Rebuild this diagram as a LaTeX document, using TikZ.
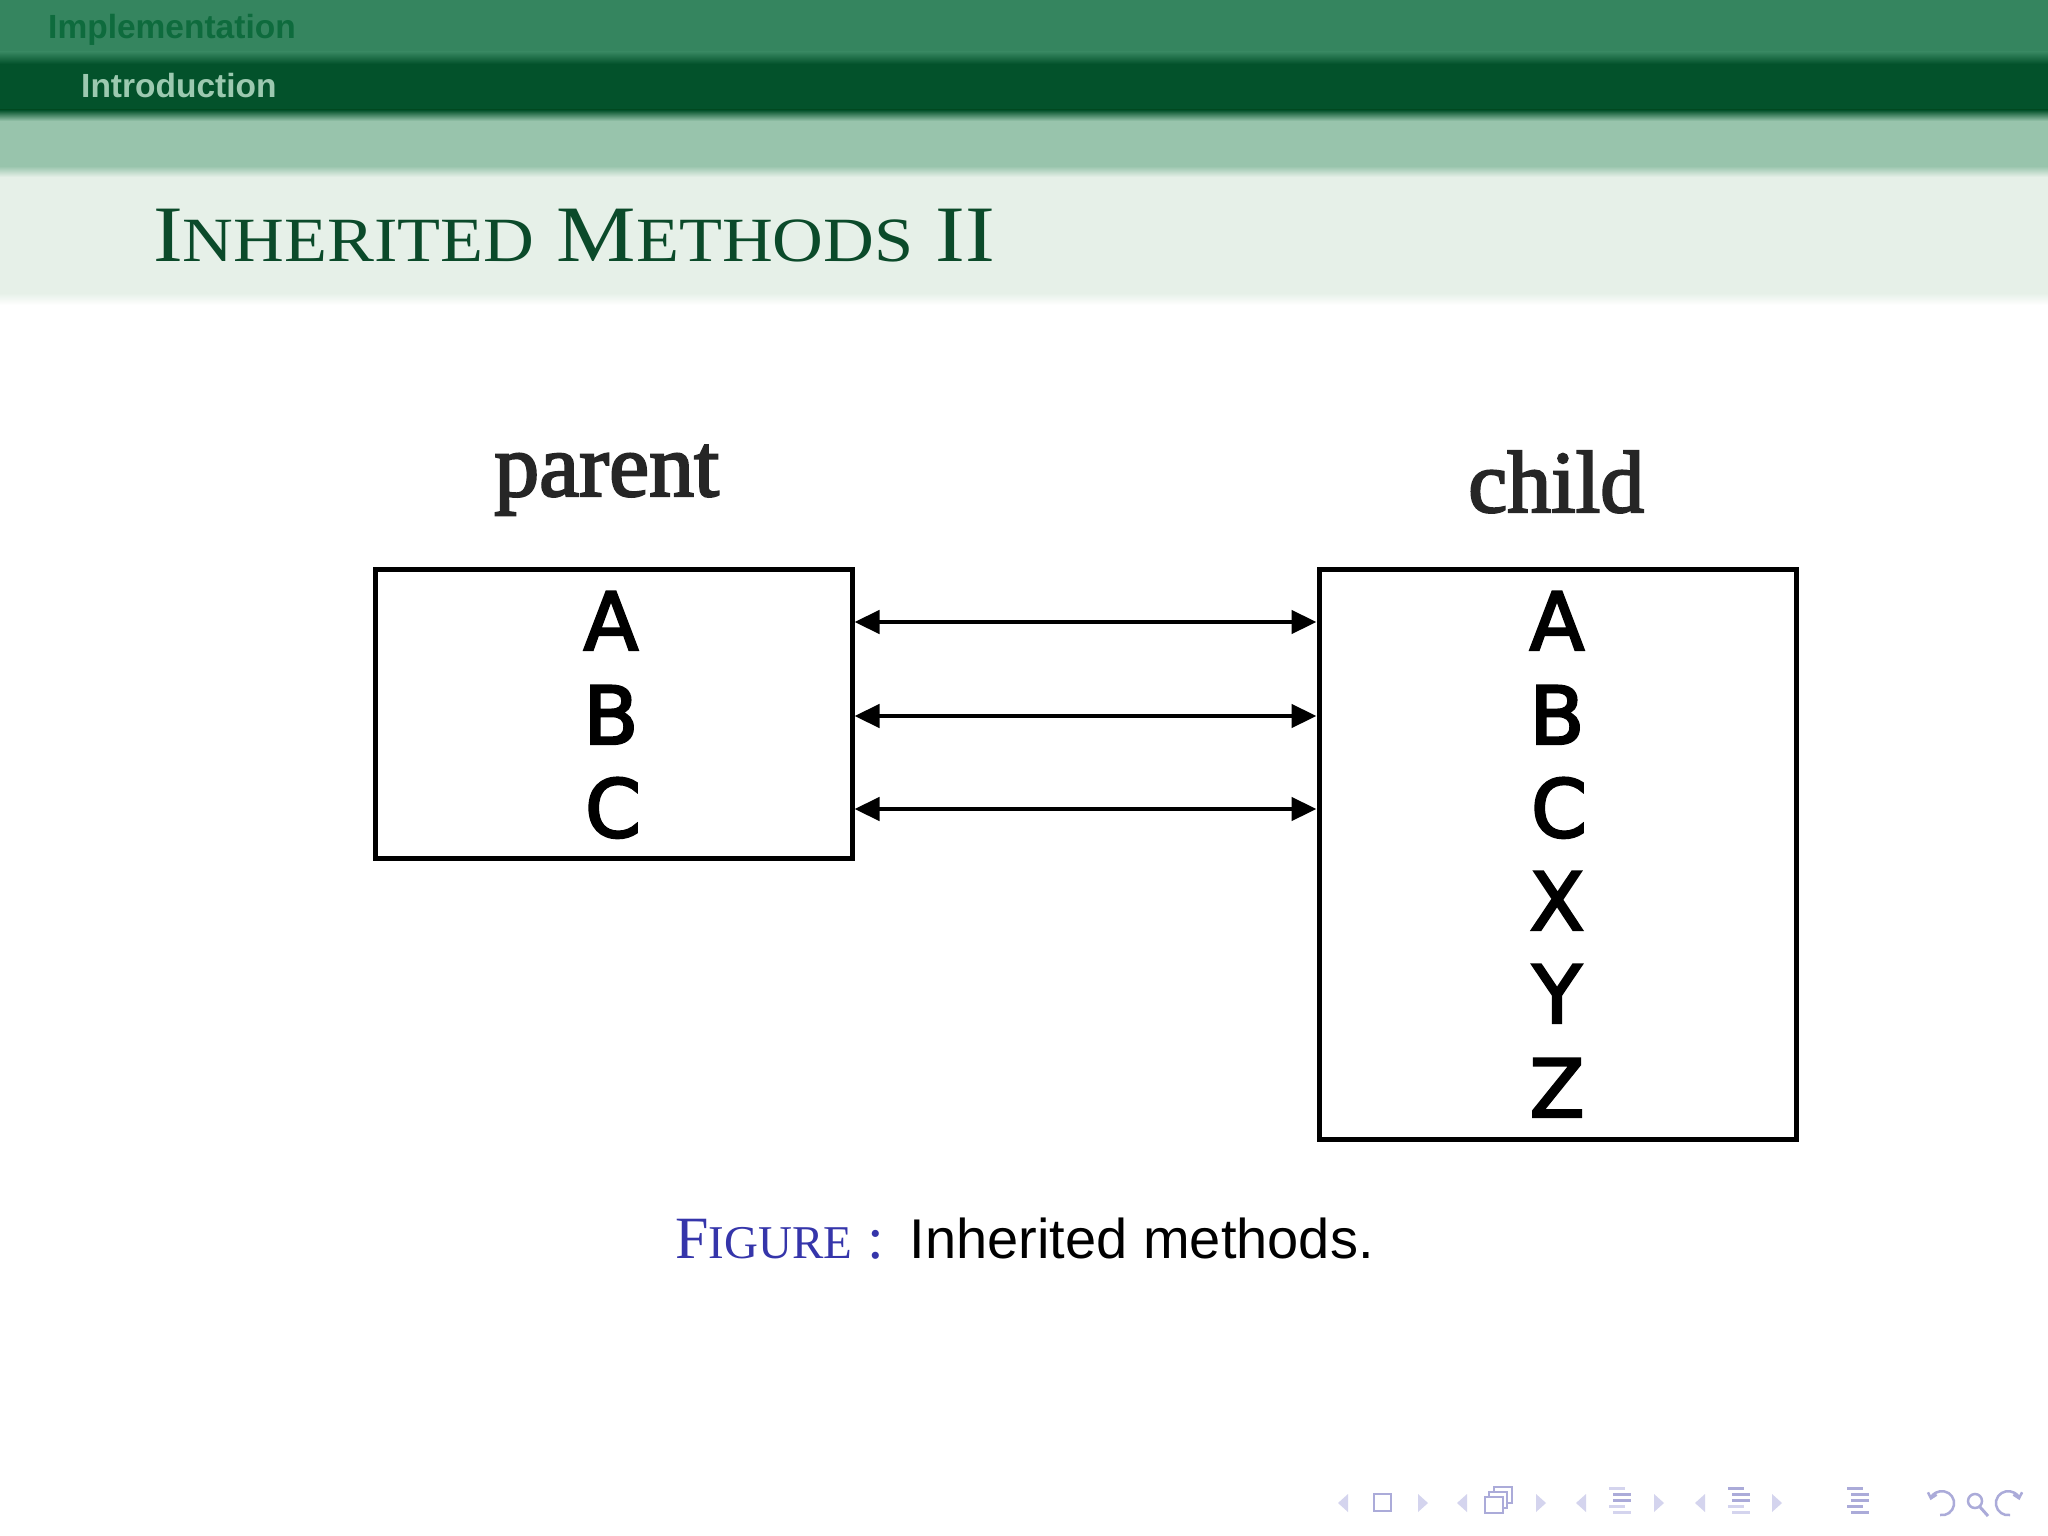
\documentclass[tikz,border=0pt]{standalone}
\usepackage{fontspec}
\setmainfont{Liberation Serif}
\newfontfamily\hsans{Liberation Sans}
\newfontfamily\dvs[FakeBold=3]{DejaVu Sans}
\newfontfamily\lserif[FakeBold=2.5]{Liberation Serif}
\usetikzlibrary{arrows.meta}
\definecolor{hdrA}{HTML}{35855F}
\definecolor{hdrB}{HTML}{03522B}
\definecolor{hdrC}{HTML}{98C4AC}
\definecolor{hdrD}{HTML}{E6F0E8}
\definecolor{secT}{HTML}{0E6B3D}
\definecolor{subT}{HTML}{9CC9B0}
\definecolor{titleT}{HTML}{0B4A2A}
\definecolor{capB}{HTML}{3535AA}
\definecolor{navA}{HTML}{D4D4EE}
\definecolor{navB}{HTML}{ABABD9}
\newcommand{\myfs}[1]{\fontsize{#1}{#1}\selectfont}
\tikzset{
  classbox/.style={draw=black, line width=5pt, fill=none, inner sep=0pt},
  letter/.style={anchor=base, inner sep=0pt, font=\dvs\myfs{80}},
  link/.style={line width=4.5pt, {Triangle[length=25pt,width=23pt]}-{Triangle[length=25pt,width=23pt]}},
  navtri/.style={fill=navA, draw=none},
  navico/.style={draw=navB, line width=2.5pt},
  navbar/.style={fill=navB, draw=none}
}
\begin{document}
\begin{tikzpicture}[x=1pt,y=-1pt]
\useasboundingbox (0,0) rectangle (2048,1536);
\fill[white] (0,0) rectangle (2048,1536);
% header bands
\fill[hdrA] (0,0) rectangle (2048,52);
\shade[top color=hdrA,bottom color=hdrB] (0,52) rectangle (2048,64);
\fill[hdrB] (0,64) rectangle (2048,110);
\shade[top color=hdrB,bottom color=hdrC] (0,110) rectangle (2048,121);
\fill[hdrC] (0,121) rectangle (2048,166);
\shade[top color=hdrC,bottom color=hdrD] (0,166) rectangle (2048,177);
\fill[hdrD] (0,177) rectangle (2048,293);
\shade[top color=hdrD,bottom color=white] (0,293) rectangle (2048,305);
% header texts
\node[anchor=base west, inner sep=0pt, text=secT, font=\hsans\bfseries\myfs{33.5}] (sec) at (48,39) {Implementation};
\node[anchor=base west, inner sep=0pt, text=subT, font=\hsans\bfseries\myfs{33.5}] (sub) at (81,98) {Introduction};
\node[anchor=base west, inner sep=0pt, text=titleT, font=\myfs{80}] (title) at (153,261)
  {\scalebox{1.116}[1]{I{\myfs{63}NHERITED} M{\myfs{63}ETHODS} II}};
% labels
\node[anchor=base west, inner sep=0pt, text=black!85, font=\lserif\myfs{90}] (plab) at (494,496) {parent};
\node[anchor=base west, inner sep=0pt, text=black!85, font=\lserif\myfs{88}] (clab) at (1468,512) {child};
% boxes
\node[classbox, minimum width=477pt, minimum height=289pt] (lbox) at (613.5,713.5) {};
\node[classbox, minimum width=477pt, minimum height=570pt] (rbox) at (1557.5,854) {};
% letters
\node[letter] (pA) at (611,650) {A};
\node[letter] (pB) at (611,744) {B};
\node[letter] (pC) at (613,837) {C};
\node[letter] (cA) at (1557,650) {A};
\node[letter] (cB) at (1557,744) {B};
\node[letter] (cC) at (1559,837) {C};
\node[letter] (cX) at (1557,930) {X};
\node[letter] (cY) at (1557,1023) {Y};
\node[letter] (cZ) at (1557,1117) {Z};
% connectors
\coordinate (l1) at (lbox.east |- 0,622); \coordinate (r1) at (rbox.west |- 0,622);
\coordinate (l2) at (lbox.east |- 0,716); \coordinate (r2) at (rbox.west |- 0,716);
\coordinate (l3) at (lbox.east |- 0,809); \coordinate (r3) at (rbox.west |- 0,809);
\draw[link] (l1) -- (r1);
\draw[link] (l2) -- (r2);
\draw[link] (l3) -- (r3);
% caption
\node[anchor=base west, inner sep=0pt] (cap) at (675,1258)
  {{\color{capB}\myfs{60}F{\myfs{47}IGURE} :}\hspace{26pt}{\hsans\myfs{56}\color{black}Inherited methods.}};
% navigation symbols
\begin{scope}[yshift=5pt]
\fill[navtri] (1348,1499) -- (1338,1508) -- (1348,1517) -- cycle;
\draw[navico] (1374,1499) rectangle (1391,1516);
\fill[navtri] (1418,1499) -- (1428,1508) -- (1418,1517) -- cycle;
\fill[navtri] (1467,1499) -- (1457,1508) -- (1467,1517) -- cycle;
\draw[navico, fill=white] (1494,1492) rectangle (1512,1508);
\draw[navico, fill=white] (1489,1497) rectangle (1507,1513);
\draw[navico, fill=white] (1485,1502) rectangle (1503,1518);
\fill[navtri] (1536,1499) -- (1546,1508) -- (1536,1517) -- cycle;
\fill[navtri] (1586,1499) -- (1576,1508) -- (1586,1517) -- cycle;
\fill[navA] (1609,1492) rectangle (1625,1495);
\fill[navB] (1613,1498) rectangle (1631,1501);
\fill[navB] (1613,1504) rectangle (1631,1507);
\fill[navA] (1609,1510) rectangle (1625,1513);
\fill[navA] (1613,1516) rectangle (1631,1519);
\fill[navtri] (1654,1499) -- (1664,1508) -- (1654,1517) -- cycle;
\fill[navtri] (1705,1499) -- (1695,1508) -- (1705,1517) -- cycle;
\fill[navB] (1728,1492) rectangle (1744,1495);
\fill[navB] (1732,1498) rectangle (1750,1501);
\fill[navB] (1732,1504) rectangle (1750,1507);
\fill[navA] (1728,1510) rectangle (1744,1513);
\fill[navA] (1732,1516) rectangle (1750,1519);
\fill[navtri] (1772,1499) -- (1782,1508) -- (1772,1517) -- cycle;
\fill[navB] (1847,1492) rectangle (1863,1495);
\fill[navB] (1851,1498) rectangle (1869,1501);
\fill[navB] (1851,1504) rectangle (1869,1507);
\fill[navB] (1847,1510) rectangle (1863,1513);
\fill[navB] (1851,1516) rectangle (1869,1519);
\draw[navico, -{Straight Barb[length=5pt,width=9pt]}] (1940,1520) arc[start angle=-100, end angle=165, radius=12pt];
\draw[navico] (1975,1506) circle[radius=7pt];
\draw[navico, line width=3pt] (1980,1512) -- (1988,1521);
\draw[navico, -{Straight Barb[length=5pt,width=9pt]}] (2010,1520) arc[start angle=280, end angle=15, radius=12pt];
\end{scope}
\end{tikzpicture}
\end{document}
